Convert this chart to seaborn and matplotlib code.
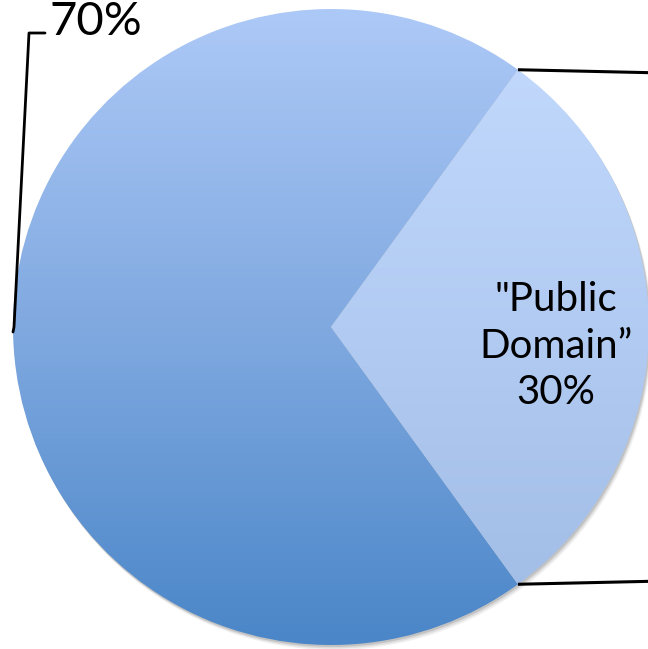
import numpy as np
import matplotlib
matplotlib.use('Agg')
import matplotlib.pyplot as plt
import seaborn as sns
from matplotlib.colors import LinearSegmentedColormap

# Data
labels = ['Other', '"Public\nDomain\u201d']
shares = [70, 30]
label_texts = ['70%', '"Public\nDomain\u201d\n30%']

# gradient colours (top -> bottom) for each slice
grad_big = ['#adc9f7', '#80a9e0', '#4a86c8']
grad_small = ['#c4dbfe', '#b2cbf2', '#9fbbe4']

sns.set_theme(style='white')
plt.rcParams['font.family'] = ['Lato', 'DejaVu Sans']

fig = plt.figure(figsize=(6.48, 6.49), dpi=100)
ax = fig.add_axes([0, 0, 1, 1])

cx, cy, r = 331, 322, 318
start = 360 * shares[1] / 100 / 2  # small slice centred on the right

# soft shadow
for k, a in [(5, 0.06), (3.5, 0.08), (2, 0.12)]:
    ax.add_patch(plt.Circle((cx + k * 0.6, cy - k), r, color='#000000', alpha=a, lw=0, zorder=0))

wedges, _ = ax.pie(shares, startangle=start, counterclock=True, radius=r, center=(cx, cy),
                   colors=['none', 'none'], wedgeprops=dict(linewidth=0), frame=True)
ax.set_xlim(0, 648)
ax.set_ylim(0, 649)
ax.set_aspect('equal')
ax.axis('off')

grad = np.linspace(0, 1, 256).reshape(-1, 1)
for w, cols in zip(wedges, [grad_big, grad_small]):
    cmap = LinearSegmentedColormap.from_list('g', cols)
    im = ax.imshow(grad, cmap=cmap, extent=(cx - r, cx + r, cy - r, cy + r),
                   origin='upper', aspect='auto', zorder=1)
    im.set_clip_path(w)
    w.set_zorder(2)

# leader lines
small = wedges[1]
for ang in [small.theta1, small.theta2]:
    px = cx + r * np.cos(np.radians(ang))
    py = cy + r * np.sin(np.radians(ang))
    ax.plot([px, 652], [py, py - np.sign(py - cy) * 3], color='black', lw=2.2,
            solid_capstyle='butt', zorder=3, clip_on=False)

big = wedges[0]
mid = np.radians((big.theta1 + big.theta2) / 2)
lx = cx + r * np.cos(mid)
ly = cy + r * np.sin(mid)
ax.plot([lx, lx + 1, 29, 45], [ly - 5, ly, 616, 616], color='black', lw=2, zorder=3)

ax.text(50, 627, label_texts[0], fontsize=34, ha='left', va='center', color='black')
ax.text(556, 303, label_texts[1], fontsize=29, ha='center', va='center',
        linespacing=1.32, color='black', zorder=4)

fig.savefig('out.png', dpi=100)
